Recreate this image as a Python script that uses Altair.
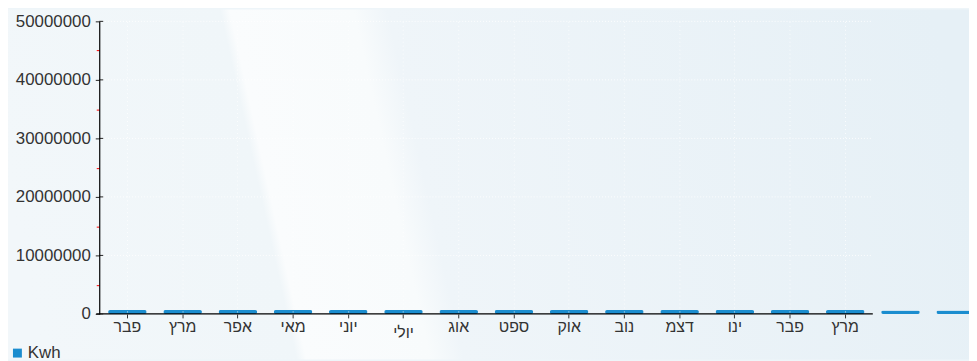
import altair as alt
import pandas as pd

# ---- data ----
months = ["פבר", "מרץ", "אפר", "מאי", "יוני", "יולי", "אוג", "ספט",
          "אוק", "נוב", "דצמ", "ינו", "פבר", "מרץ", "", ""]
kwh = [650000, 650000, 650000, 650000, 650000, 650000, 650000, 650000,
       650000, 650000, 650000, 650000, 650000, 650000, 600000, 600000]
series = ["Kwh"] * 16
y_tick_values = [0, 5000000, 10000000, 15000000, 20000000, 25000000,
                 30000000, 35000000, 40000000, 45000000, 50000000]
major_values = [0, 10000000, 20000000, 30000000, 40000000, 50000000]

df = pd.DataFrame({"idx": list(range(len(months))), "month": months,
                   "kwh": kwh, "series": series})

W, H = 866, 295
FONT = "Liberation Sans"
TXT = "#333333"
BAR = "#1b8dcf"

label_js = "[" + ",".join("'" + m + "'" for m in months) + "]"

yscale = alt.Scale(domain=[0, 50000000], nice=False)
yaxis = alt.Axis(
    title=None, values=y_tick_values, grid=False, zindex=1,
    labelExpr="datum.value % 10000000 == 0 ? '' + datum.value : ''",
    labelFont=FONT, labelFontSize=17, labelColor=TXT, labelPadding=5,
    domainColor="black", domainWidth=1.2,
    tickColor={"condition": {"test": "datum.value % 10000000 != 0", "value": "red"}, "value": "#222222"},
    tickSize={"condition": {"test": "datum.value % 10000000 != 0", "value": 3}, "value": 4},
)

# background swoosh (decoration)
bg = alt.Chart(pd.DataFrame({"k": [0]})).mark_rect(
    clip=False,
    fill=alt.Gradient(
        gradient="linear", x1=0, y1=0.54, x2=1, y2=0.46,
        stops=[
            alt.GradientStop(offset=0.0, color="#f2f7fa"),
            alt.GradientStop(offset=0.262, color="#f0f6f9"),
            alt.GradientStop(offset=0.272, color="#fafcfd"),
            alt.GradientStop(offset=0.40, color="#f8fbfc"),
            alt.GradientStop(offset=0.435, color="#eff5f9"),
            alt.GradientStop(offset=1.0, color="#e6f0f6"),
        ],
    ),
).encode(x=alt.value(-92), x2=alt.value(W + 11), y=alt.value(-12), y2=alt.value(H + 46))

grid = alt.Chart(pd.DataFrame({"kwh": major_values[1:]})).mark_rule(
    color="white", strokeDash=[1, 2], opacity=0.9
).encode(y=alt.Y("kwh:Q", scale=yscale, axis=yaxis), x=alt.value(0), x2=alt.value(780))

bars = alt.Chart(df).mark_bar(cornerRadius=2).encode(
    x=alt.X(
        "idx:O",
        scale=alt.Scale(range=[0, 892], paddingInner=0.3, paddingOuter=0.16),
        axis=alt.Axis(
            title=None, domain=False, labelAngle=0, zindex=1,
            labelExpr=label_js + "[datum.value]",
            labelFont=FONT, labelFontSize=16, labelColor=TXT,
            labelPadding={"condition": {"test": "datum.value == 5", "value": 7}, "value": 1},
            tickSize=4, tickColor="#333333",
            tickOpacity={"condition": {"test": "datum.value > 13", "value": 0}, "value": 1},
            grid=True, gridColor="white", gridDash=[1, 3],
            gridOpacity={"condition": {"test": "datum.value > 13", "value": 0}, "value": 0.8},
        ),
    ),
    y=alt.Y("kwh:Q", scale=yscale, axis=yaxis),
    color=alt.Color(
        "series:N",
        scale=alt.Scale(range=[BAR]),
        legend=alt.Legend(
            title=None, orient="none", legendX=-91, legendY=326, padding=0, zindex=1,
            symbolType="square", symbolSize=81, symbolStrokeWidth=0,
            labelFont=FONT, labelFontSize=17, labelColor=TXT, labelOffset=2,
        ),
    ),
)

xline = alt.Chart(pd.DataFrame({"kwh": [0]})).mark_rule(color="black", strokeWidth=1.2).encode(
    y=alt.Y("kwh:Q", scale=yscale, axis=yaxis), x=alt.value(-3), x2=alt.value(780)
)

major_right = alt.Chart(pd.DataFrame({"kwh": major_values})).mark_rule(color="#222222").encode(
    y=alt.Y("kwh:Q", scale=yscale, axis=yaxis), x=alt.value(0), x2=alt.value(4)
)

chart = alt.layer(bg, grid, bars, xline, major_right).properties(
    width=W, height=H,
    padding={"left": 92, "top": 12, "right": 11, "bottom": 46},
    autosize=alt.AutoSizeParams(type="none"),
    background="#eef5f9",
).configure_view(strokeWidth=0)

chart.save("out.html", embed_options={"renderer": "svg", "actions": False})
